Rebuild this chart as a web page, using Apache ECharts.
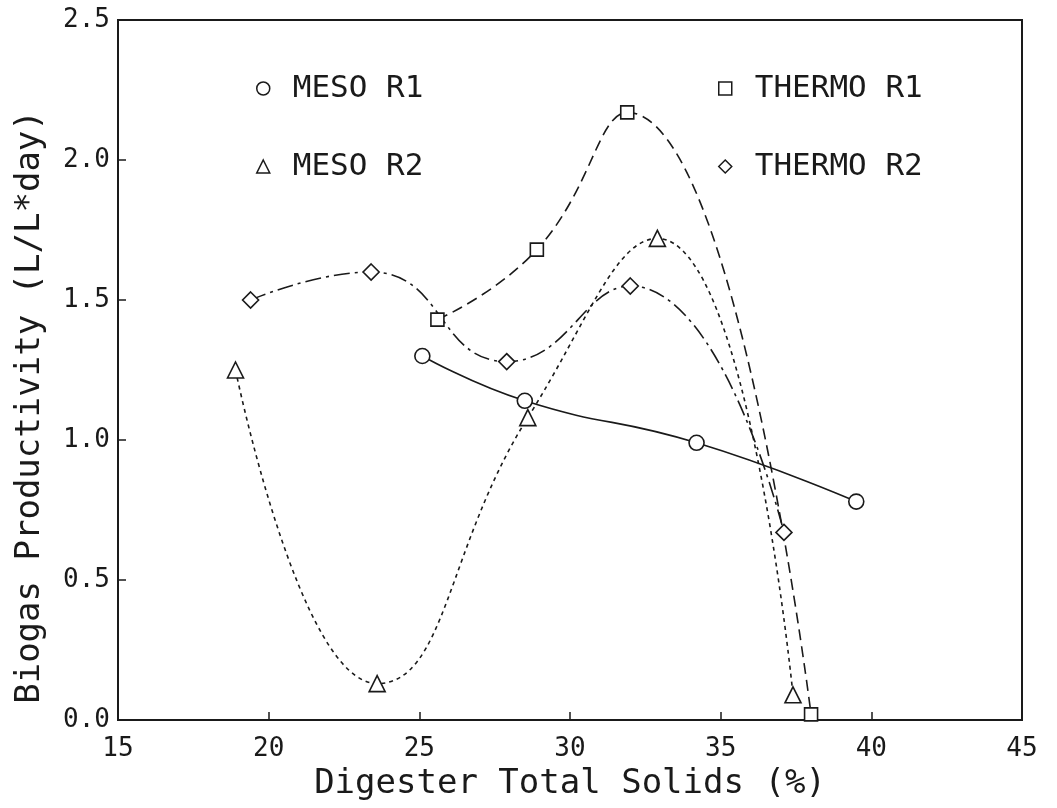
<!DOCTYPE html>
<html>
<head>
<meta charset="utf-8">
<script src="https://cdn.jsdelivr.net/npm/echarts@6/dist/echarts.min.js"></script>
<style>
  html, body { margin: 0; padding: 0; background: #fff; }
  #main { width: 1057px; height: 808px; }
</style>
</head>
<body>
<div id="main"></div>
<script>
// values: [total solids %, L/L*day]
var mesoR1 = [[25.1, 1.30], [28.5, 1.14], [34.2, 0.99], [39.5, 0.78]];
var mesoR2 = [[18.9, 1.25], [23.6, 0.13], [28.6, 1.08], [32.9, 1.72], [37.4, 0.09]];
var thermoR1 = [[25.6, 1.43], [28.9, 1.68], [31.9, 2.17], [38.0, 0.02]];
var thermoR2 = [[19.4, 1.50], [23.4, 1.60], [27.9, 1.28], [32.0, 1.55], [37.1, 0.67]];

var seriesNames = ['MESO R1', 'MESO R2', 'THERMO R1', 'THERMO R2'];
var xTicks = [15, 45, 5];   // min, max, step
var yTicks = [0, 2.5, 0.5];

var font = 'DejaVu Sans Mono';
var ink = '#1a1a1a';

var chart = echarts.init(document.getElementById('main'));

function line(name, data, symbol, size, dash) {
  return {
    name: name,
    type: 'line',
    data: data,
    smooth: 0.5,
    symbol: symbol,
    symbolSize: size,
    showSymbol: true,
    itemStyle: { color: '#fff', borderColor: ink, borderWidth: 1.6 },
    lineStyle: { color: ink, width: 1.6, type: dash },
    z: 3
  };
}

var legendCommon = {
  orient: 'vertical',
  itemWidth: 13,
  itemHeight: 13,
  itemGap: 47,
  itemStyle: { color: '#fff', borderColor: ink, borderWidth: 1.5 },
  textStyle: { fontFamily: font, fontSize: 31, color: ink, padding: [0, 0, 0, 18] },
  selectedMode: false
};

var option = {
  backgroundColor: '#fff',
  animation: false,
  grid: { left: 118, right: 35, top: 20, bottom: 88, containLabel: false, outerBoundsMode: 'none' },
  legend: [
    Object.assign({}, legendCommon, {
      left: 251, top: 68,
      data: [{ name: seriesNames[0], icon: 'circle' }, { name: seriesNames[1], icon: 'triangle' }]
    }),
    Object.assign({}, legendCommon, {
      left: 713, top: 68,
      data: [{ name: seriesNames[2], icon: 'rect' }, { name: seriesNames[3], icon: 'diamond' }]
    })
  ],
  xAxis: {
    type: 'value',
    min: xTicks[0], max: xTicks[1], interval: xTicks[2],
    name: 'Digester Total Solids (%)',
    nameLocation: 'middle',
    nameGap: 46,
    nameTextStyle: { fontFamily: font, fontSize: 34, color: ink },
    axisLine: { lineStyle: { color: ink, width: 2 } },
    axisTick: { inside: true, length: 8, lineStyle: { color: ink, width: 1.5 } },
    axisLabel: { fontFamily: font, fontSize: 26, color: ink, margin: 16 },
    splitLine: { show: false }
  },
  yAxis: {
    type: 'value',
    min: yTicks[0], max: yTicks[1], interval: yTicks[2],
    name: 'Biogas Productivity (L/L*day)',
    nameLocation: 'middle',
    nameGap: 71,
    nameTextStyle: { fontFamily: font, fontSize: 34, color: ink, padding: [0, 74, 0, 0] },
    axisLine: { show: true, lineStyle: { color: ink, width: 2 } },
    axisTick: { show: true, inside: true, length: 8, lineStyle: { color: ink, width: 1.5 } },
    axisLabel: { fontFamily: font, fontSize: 26, color: ink, margin: 8,
      formatter: function (v) { return v.toFixed(1); } },
    splitLine: { show: false }
  },
  graphic: [{
    type: 'rect',
    shape: { x: 118, y: 20, width: 1057 - 118 - 35, height: 808 - 20 - 88 },
    style: { fill: 'none', stroke: ink, lineWidth: 2 },
    silent: true, z: 1
  }],
  series: [
    line(seriesNames[0], mesoR1, 'circle', 15, 'solid'),
    line(seriesNames[1], mesoR2, 'triangle', 16, [4, 4]),
    line(seriesNames[2], thermoR1, 'rect', 13, [11, 6]),
    line(seriesNames[3], thermoR2, 'diamond', 16, [16, 5, 3, 5])
  ]
};

chart.setOption(option);
</script>
</body>
</html>
